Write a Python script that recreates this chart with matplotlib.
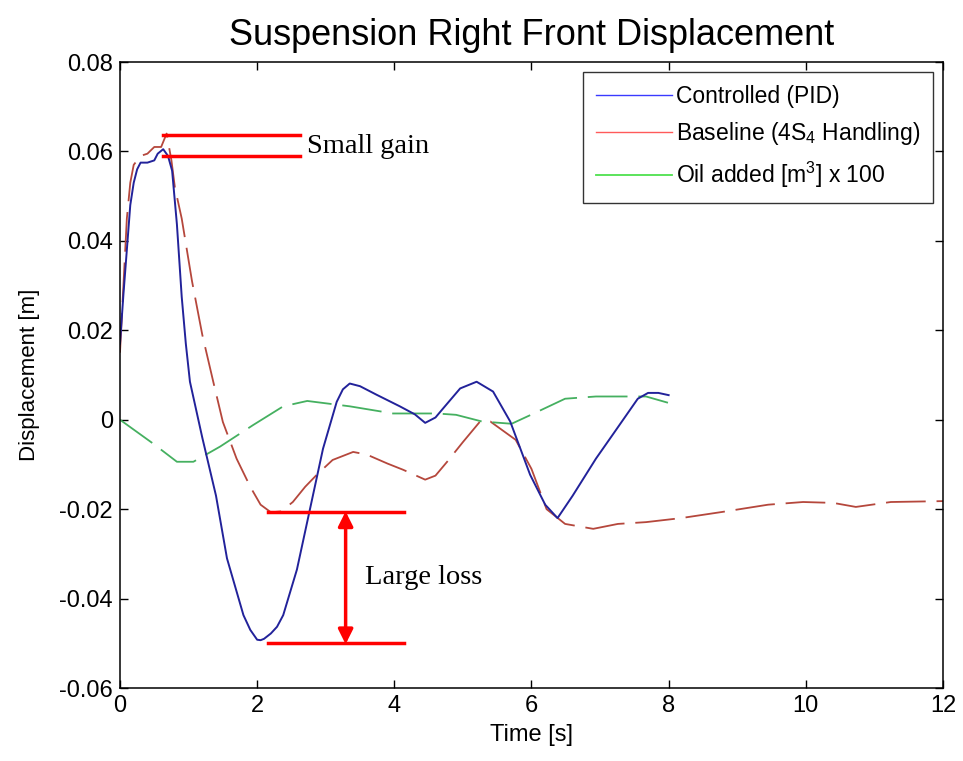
import matplotlib as mpl
mpl.use("Agg")
import matplotlib.pyplot as plt
from matplotlib.lines import Line2D

mpl.rcParams.update({
    "font.family": "Liberation Sans", "mathtext.fontset": "custom",
    "mathtext.rm": "Liberation Sans", "mathtext.it": "Liberation Sans:italic",
    "xtick.direction": "in", "ytick.direction": "in",
    "xtick.top": True, "ytick.right": True,
})

# Controlled (PID)
t_pid = [0, 0.05, 0.1, 0.15, 0.2, 0.25, 0.3, 0.4, 0.5, 0.55, 0.63, 0.7, 0.76, 0.83, 0.9,
         0.96, 1.02, 1.2, 1.4, 1.56, 1.8, 1.9, 2.0, 2.05, 2.1, 2.2, 2.29, 2.38, 2.58, 2.77,
         2.96, 3.16, 3.25, 3.35, 3.5, 3.74, 4.08, 4.3, 4.45, 4.6, 4.71, 4.96, 5.2, 5.44,
         5.69, 5.98, 6.2, 6.38, 6.6, 6.94, 7.2, 7.55, 7.7, 7.85, 8.0]
y_pid = [0.017, 0.028, 0.038, 0.048, 0.053, 0.056, 0.0575, 0.0575, 0.058, 0.0595, 0.0605,
         0.059, 0.0557, 0.0437, 0.0275, 0.017, 0.0085, -0.004, -0.017, -0.031, -0.0437,
         -0.047, -0.0492, -0.0493, -0.049, -0.0478, -0.0463, -0.0437, -0.0335, -0.02,
         -0.0065, 0.004, 0.0068, 0.0081, 0.0075, 0.0056, 0.003, 0.0012, -0.0007, 0.0005,
         0.0025, 0.007, 0.0085, 0.0063, -0.0004, -0.0123, -0.019, -0.022, -0.017, -0.0087,
         -0.003, 0.0047, 0.006, 0.006, 0.0055]

# Baseline (4S4 Handling)
t_base = [0, 0.05, 0.1, 0.15, 0.2, 0.3, 0.4, 0.5, 0.6, 0.68, 0.75, 0.8, 0.9, 1.05, 1.2,
          1.36, 1.5, 1.7, 1.9, 2.05, 2.2, 2.35, 2.52, 2.7, 2.87, 3.1, 3.4, 3.6, 3.9, 4.13,
          4.45, 4.6, 4.77, 5.0, 5.25, 5.4, 5.77, 6.0, 6.22, 6.49, 6.9, 7.26, 7.67, 8.18,
          8.79, 9.45, 9.96, 10.4, 10.73, 11.24, 12.0]
y_base = [0.015, 0.03, 0.045, 0.053, 0.057, 0.059, 0.0595, 0.061, 0.061, 0.064, 0.058,
          0.052, 0.045, 0.031, 0.019, 0.0085, -0.0005, -0.0087, -0.015, -0.019, -0.0207,
          -0.0205, -0.0184, -0.015, -0.0123, -0.009, -0.0072, -0.0078, -0.0098, -0.0112,
          -0.0134, -0.0125, -0.0094, -0.005, -0.0004, -0.0004, -0.0045, -0.011, -0.02,
          -0.0233, -0.0244, -0.0233, -0.0229, -0.022, -0.0206, -0.019, -0.0184, -0.0186,
          -0.0195, -0.0184, -0.0182]

# Oil added [m^3] x 100
t_oil = [0, 0.48, 0.83, 1.07, 1.46, 1.94, 2.38, 2.73, 3.35, 3.98, 4.62, 4.9, 5.28, 5.71,
         6.02, 6.49, 6.94, 7.36, 7.67, 7.99]
y_oil = [0, -0.0053, -0.0094, -0.0094, -0.006, -0.0012, 0.003, 0.0042, 0.003, 0.0014,
         0.0014, 0.0011, -0.0004, -0.0009, 0.0013, 0.0047, 0.0052, 0.0052, 0.0052, 0.0038]

xticks = [0, 2, 4, 6, 8, 10, 12]
yticks = [-0.06, -0.04, -0.02, 0, 0.02, 0.04, 0.06, 0.08]
ytick_labels = ["-0.06", "-0.04", "-0.02", "0", "0.02", "0.04", "0.06", "0.08"]

fig = plt.figure(figsize=(9.63, 7.61), dpi=100)
ax = fig.add_axes([0.1246, 0.0959, 0.8546, 0.8226])

ax.plot(t_base, y_base, color="#b5473c", lw=1.3, dashes=(22, 6))
ax.plot(t_oil, y_oil, color="#45b060", lw=1.3, dashes=(22, 6))
ax.plot(t_pid, y_pid, color="#22229a", lw=1.4)

ax.set_xlim(0, 12); ax.set_ylim(-0.06, 0.08)
ax.set_xticks(xticks); ax.set_yticks(yticks)
ax.set_yticklabels(ytick_labels)
ax.tick_params(labelsize=17, length=6, width=1, pad=5)
for s in ax.spines.values():
    s.set_linewidth(1.1)

ax.set_title("Suspension Right Front Displacement", fontsize=26, pad=12)
ax.set_xlabel("Time [s]", fontsize=17, labelpad=5)
ax.set_ylabel("Displacement [m]", fontsize=16, labelpad=14)

# annotations
RED = "#ff0000"
ax.plot([0.63, 2.62], [0.0636, 0.0636], color=RED, lw=2.5)
ax.plot([0.63, 2.62], [0.0589, 0.0589], color=RED, lw=2.5)
ax.text(2.73, 0.0612, "Small gain", family="Liberation Serif", fontsize=20.5, va="center")
ax.plot([2.16, 4.14], [-0.0207, -0.0207], color=RED, lw=2.5)
ax.plot([2.16, 4.14], [-0.05, -0.05], color=RED, lw=2.5)
ax.annotate("", xy=(3.29, -0.0502), xytext=(3.29, -0.0205),
            arrowprops=dict(arrowstyle="<|-|>", color=RED, lw=2.5,
                            mutation_scale=22, shrinkA=0, shrinkB=0))
ax.text(3.57, -0.0352, "Large loss", family="Liberation Serif", fontsize=20.5, va="center")

handles = [Line2D([], [], color="#3a3aff", lw=1),
           Line2D([], [], color="#ff5a5a", lw=1),
           Line2D([], [], color="#4ee04e", lw=1.3)]
labels = ["Controlled (PID)", "Baseline (4S$_4$ Handling)", "Oil added [m$^3$] x 100"]
leg = ax.legend(handles, labels, loc="upper right", bbox_to_anchor=(0.988, 0.984),
                fontsize=16.5, handlelength=3.3, handletextpad=0.2, frameon=True,
                fancybox=False, edgecolor="black", borderpad=0.55, labelspacing=0.55,
                borderaxespad=0)
leg.get_frame().set_linewidth(1.0)

fig.savefig("out.png", dpi=100)
